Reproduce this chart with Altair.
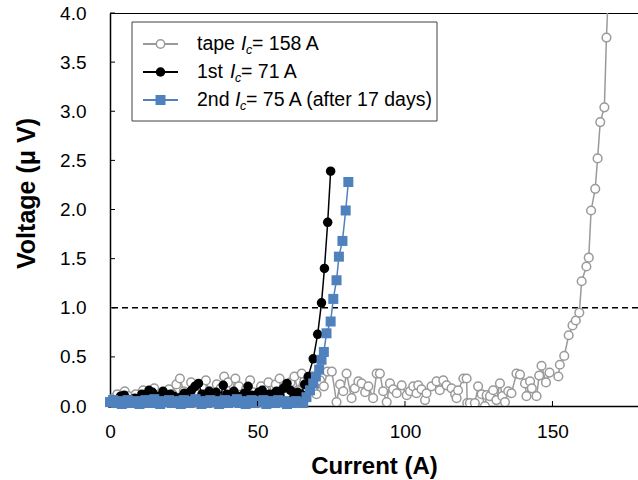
import altair as alt
import pandas as pd

# ---------------- data ----------------
tape_I = [0, 1.3, 2.5, 3.8, 5.0, 6.2, 7.5, 8.7, 10.0, 11.2, 12.5, 13.7, 15.0, 16.2, 17.5,
          18.7, 20.0, 21.2, 22.5, 23.7, 25.0, 26.2, 27.5, 28.7, 30.0, 31.2, 32.5, 33.7, 35.0,
          36.2, 37.5, 38.7, 40.0, 41.2, 42.5, 43.7, 45.0, 46.2, 47.5, 48.7, 50.0, 51.2, 52.5,
          53.7, 55.0, 56.2, 57.5, 58.7, 60.0, 61.2, 62.5, 63.7, 65.0, 66.2, 67.5, 68.7, 70.0,
          71.2, 72.5, 73.7,
          75.2, 76.8, 78.0, 79.1, 80.2, 81.9, 83.0, 84.2, 85.3, 86.5, 87.6, 89.2, 90.4, 91.5,
          92.6, 93.8, 94.9, 96.0, 97.2, 98.9, 100.6, 101.7, 102.8, 103.9, 104.5, 105.6, 106.8,
          107.3, 109.0, 110.7, 111.8, 113.0, 114.1, 115.8, 117.0, 117.5, 118.0, 119.8, 120.9,
          121.1, 122.0, 123.7, 124.8, 126.0, 127.1, 127.7, 128.8, 129.9, 131.0, 132.2, 133.0,
          133.9, 135.0, 136.1, 137.8, 139.0, 140.7, 141.2, 142.4, 143.0, 144.6, 145.5, 146.3,
          147.8, 149.0, 152.0, 152.5, 154.0, 155.5, 156.8, 157.9, 159.1, 159.9, 161.5, 162.3,
          163.1, 164.5, 165.3, 166.2, 167.6, 168.3, 169.5]
tape_V = [0.02, 0.08, 0.12, 0.05, 0.15, 0.10, 0.04, 0.12, 0.08, 0.16, 0.06, 0.12, 0.18, 0.09, 0.14,
          0.05, 0.17, 0.12, 0.22, 0.28, 0.15, 0.10, 0.24, 0.18, 0.12, 0.20, 0.26, 0.15, 0.08,
          0.22, 0.18, 0.30, 0.24, 0.12, 0.28, 0.20, 0.10, 0.18, 0.26, 0.14, 0.08, 0.20, 0.16,
          0.24, 0.12, 0.22, 0.28, 0.18, 0.10, 0.24, 0.30, 0.16, 0.33, 0.22, 0.28, 0.18, 0.12,
          0.26, 0.20, 0.35,
          0.35, 0.04, 0.22, 0.15, 0.33, 0.08, 0.18, 0.25, 0.23, 0.14, 0.20, 0.08, 0.33, 0.33,
          0.15, 0.04, 0.23, 0.17, 0.13, 0.21, 0.11, 0.15, 0.20, 0.13, 0.21, 0.17, 0.06,
          0.13, 0.20, 0.25, 0.16, 0.26, 0.21, 0.18, 0.12, 0.08, 0.16, 0.28, 0.28,
          0.03, 0.03, 0.03, 0.20, 0.12, 0.00, 0.11, 0.10, 0.16, 0.06, 0.23, 0.10,
          0.04, 0.15, 0.13, 0.33, 0.32, 0.23, 0.10, 0.25, 0.18, 0.10, 0.31, 0.41,
          0.24, 0.34, 0.30, 0.42, 0.51, 0.72, 0.82, 0.87, 0.95, 1.27, 1.42, 1.51,
          1.99, 2.21, 2.52, 2.89, 3.04, 3.75, 4.60]

first_I = [0, 1.2, 2.4, 3.6, 4.8, 6.0, 7.2, 8.4, 9.6, 10.8, 12.0, 13.2, 14.4, 15.6, 16.8, 18.0,
           19.2, 20.4, 21.6, 22.8, 24.0, 25.2, 26.4, 27.6, 28.8, 30.0, 31.2, 32.4, 33.6, 34.8,
           36.0, 37.2, 38.4, 39.6, 40.8, 42.0, 43.2, 44.4, 45.6, 46.8, 48.0, 49.2, 50.4, 51.6,
           52.8, 54.0, 55.2, 56.4, 57.6, 58.8, 60.0, 61.2, 62.4, 63.6, 64.8, 66.0,
           67.2, 68.9, 70.4, 71.7, 72.7, 73.8, 74.8]
first_V = [0.03, 0.06, 0.05, 0.10, 0.11, 0.07, 0.04, 0.08, 0.05, 0.12, 0.09, 0.16, 0.14, 0.06,
           0.10, 0.15, 0.08, 0.12, 0.10, 0.05, 0.09, 0.13, 0.07, 0.16, 0.20, 0.23, 0.12, 0.08,
           0.15, 0.10, 0.14, 0.06, 0.21, 0.12, 0.09, 0.15, 0.10, 0.07, 0.13, 0.20, 0.11, 0.08,
           0.14, 0.16, 0.10, 0.12, 0.07, 0.15, 0.11, 0.18, 0.23, 0.16, 0.10, 0.14, 0.12, 0.22,
           0.30, 0.48, 0.73, 1.05, 1.40, 1.87, 2.39]

second_I = [0, 1, 2, 3, 4, 5, 6, 7, 8, 9, 10, 11, 12, 13, 14, 15, 16, 17, 18, 19, 20, 21, 22,
            23, 24, 25, 26, 27, 28, 29, 30, 31, 32, 33, 34, 35, 36, 37, 38, 39, 40, 41, 42, 43,
            44, 45, 46, 47, 48, 49, 50, 51, 52, 53, 54, 55, 56, 57, 58, 59, 60, 61, 62, 63, 64,
            65.5, 66.6, 67.8, 68.9, 69.8, 70.9, 71.7, 72.5, 73.4, 74.8, 75.7, 76.8, 77.6, 78.8,
            79.9, 80.8]
second_V = [0.04, 0.06, 0.03, 0.05, 0.02, 0.04, 0.06, 0.03, 0.05, 0.04, 0.02, 0.05, 0.06, 0.03,
            0.04, 0.07, 0.03, 0.02, 0.05, 0.04, 0.06, 0.03, 0.05, 0.04, 0.02, 0.06, 0.04, 0.03,
            0.05, 0.07, 0.04, 0.02, 0.05, 0.03, 0.06, 0.04, 0.05, 0.02, 0.04, 0.06, 0.03, 0.05,
            0.04, 0.07, 0.03, 0.05, 0.02, 0.04, 0.06, 0.03, 0.05, 0.04, 0.06, 0.02, 0.05, 0.04,
            0.03, 0.06, 0.04, 0.05, 0.02, 0.04, 0.03, 0.05, 0.04,
            0.03, 0.09, 0.16, 0.23, 0.30, 0.37, 0.47, 0.55, 0.74, 0.86, 1.09, 1.28, 1.52, 1.68,
            1.99, 2.28]

criterion_V = [1.0]
x_ticks = [0, 50, 100, 150]
y_ticks = [0.0, 0.5, 1.0, 1.5, 2.0, 2.5, 3.0, 3.5, 4.0]

GREY = "#9a9a9a"
BLUE = "#4F81BD"
FONT = "Liberation Sans"


def frame(xs, ys):
    n = min(len(xs), len(ys))
    return pd.DataFrame({"I": xs[:n], "V": ys[:n]})


tape_df = frame(tape_I, tape_V)
first_df = frame(first_I, first_V)
second_df = frame(second_I, second_V)

xscale = alt.Scale(domain=[0, 179], nice=False, zero=False)
yscale = alt.Scale(domain=[0, 4], nice=False)

X = alt.X("I:Q", scale=xscale, axis=alt.Axis(
    values=x_ticks, title="Current (A)", grid=False, ticks=False, tickSize=0,
    labelFlush=False, labelPadding=16, labelFontSize=19, labelColor="black", labelFont=FONT,
    titleFontSize=24, titleFontWeight="bold", titleColor="black", titleFont=FONT,
    titleBaseline="alphabetic", titleY=67, domainColor="black", domainWidth=1.5))
Y = alt.Y("V:Q", scale=yscale, axis=alt.Axis(
    values=y_ticks, format=".1f", title="Voltage (μ V)", grid=False, ticks=False, tickSize=0,
    labelPadding=24, labelFontSize=19, labelColor="black", labelFont=FONT,
    titleFontSize=25, titleFontWeight="bold", titleColor="black", titleFont=FONT,
    titleBaseline="alphabetic", titleX=-76, titleY=180, domainColor="black", domainWidth=1.5))

crit = alt.Chart(pd.DataFrame({"V": criterion_V})).mark_rule(
    color="black", strokeWidth=1.5, strokeDash=[6, 4]).encode(y=Y)

ytick_layer = alt.Chart(pd.DataFrame({"V": y_ticks[1:]})).mark_rule(
    color="black", strokeWidth=1).encode(y=Y, x=alt.value(0), x2=alt.value(5))
xtick_layer = alt.Chart(pd.DataFrame({"I": x_ticks[1:]})).mark_rule(
    color="black", strokeWidth=1).encode(x=X, y=alt.value(393), y2=alt.value(388))

tape_line = alt.Chart(tape_df).mark_line(color=GREY, strokeWidth=1.5, clip=True).encode(
    x=X, y=Y, order="I:Q")
tape_pts = alt.Chart(tape_df).mark_point(
    shape="circle", filled=True, fill="white", stroke=GREY, strokeWidth=1.5, size=75,
    opacity=1, clip=True).encode(x=X, y=Y)

first_line = alt.Chart(first_df).mark_line(color="black", strokeWidth=1.5).encode(
    x=X, y=Y, order="I:Q")
first_pts = alt.Chart(first_df).mark_point(
    shape="circle", filled=True, color="black", size=90, opacity=1).encode(x=X, y=Y)

second_line = alt.Chart(second_df).mark_line(color=BLUE, strokeWidth=1.5).encode(
    x=X, y=Y, order="I:Q")
second_pts = alt.Chart(second_df).mark_point(
    shape="square", filled=True, color=BLUE, size=100, opacity=1).encode(x=X, y=Y)

# ---------------- hand-built legend ----------------
one = pd.DataFrame({"k": [0]})
legend_layers = [
    alt.Chart(one).mark_rect(fill="white", stroke="#404040", strokeWidth=1).encode(
        x=alt.value(22), x2=alt.value(327), y=alt.value(9), y2=alt.value(108)),
]
rows = [
    (31, GREY, "circle", False, "tape", 131, "= 158 A"),
    (59, "black", "circle", True, "1st", 120, "= 71 A"),
    (87, BLUE, "square", True, "2nd", 125, "= 75 A (after 17 days)"),
]
for (ry, col, shp, fill, lead, ix, tail) in rows:
    legend_layers.append(alt.Chart(one).mark_rule(color=col, strokeWidth=2).encode(
        x=alt.value(33), x2=alt.value(68), y=alt.value(ry)))
    if fill:
        legend_layers.append(alt.Chart(one).mark_point(
            shape=shp, filled=True, color=col, size=100 if shp == "square" else 90,
            opacity=1).encode(x=alt.value(50.5), y=alt.value(ry)))
    else:
        legend_layers.append(alt.Chart(one).mark_point(
            shape=shp, filled=True, fill="white", stroke=col, strokeWidth=1.5, size=70,
            opacity=1).encode(x=alt.value(50.5), y=alt.value(ry)))
    legend_layers.append(alt.Chart(one).mark_text(
        font=FONT, fontSize=19.5, align="left", baseline="middle", color="black").encode(
        x=alt.value(87), y=alt.value(ry), text=alt.value(lead)))
    legend_layers.append(alt.Chart(one).mark_text(
        font=FONT, fontSize=19.5, fontStyle="italic", align="left", baseline="middle",
        color="black").encode(x=alt.value(ix), y=alt.value(ry), text=alt.value("I")))
    legend_layers.append(alt.Chart(one).mark_text(
        font=FONT, fontSize=12.5, fontStyle="italic", align="left", baseline="middle",
        color="black").encode(x=alt.value(ix + 5), y=alt.value(ry + 6), text=alt.value("c")))
    legend_layers.append(alt.Chart(one).mark_text(
        font=FONT, fontSize=19.5, align="left", baseline="middle", color="black").encode(
        x=alt.value(ix + 11), y=alt.value(ry), text=alt.value(tail)))

chart = alt.layer(
    crit, tape_line, tape_pts, first_line, first_pts, second_line, second_pts,
    ytick_layer, xtick_layer, *legend_layers
).properties(
    width=528, height=393,
    autosize=alt.AutoSizeParams(type="none"),
    padding={"left": 110, "top": 13, "right": 0, "bottom": 74},
    background="white",
).configure_view(stroke="black", strokeWidth=1)

chart.save("out.html", embed_options={"renderer": "svg", "actions": False})
